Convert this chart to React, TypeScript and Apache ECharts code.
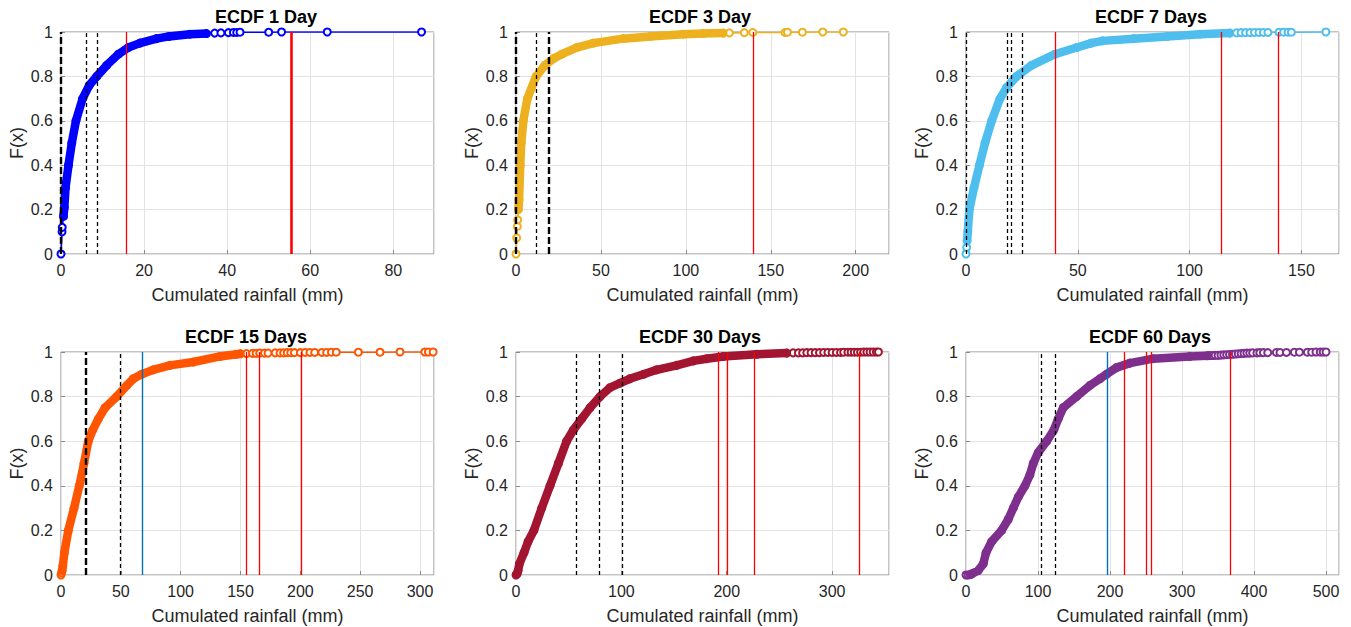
import React, { useEffect, useRef } from "react";
import * as echarts from "echarts";

// ---------------- DATA ----------------
const titles = ["ECDF 1 Day", "ECDF 3 Day", "ECDF 7 Days", "ECDF 15 Days", "ECDF 30 Days", "ECDF 60 Days"];
const xMaxes = [89.8, 219.6, 166.8, 311.7, 354, 518];
const xSteps = [20, 50, 50, 50, 100, 100];
const seriesColors = ["#0000FF", "#EDB120", "#4DBEEE", "#FF5500", "#A2142F", "#7E2F8E"];
const xAxisLabel = "Cumulated rainfall (mm)";
const yAxisLabel = "F(x)";

// Panel 1 — 1 day
const p1LowX = [0, 0.25, 0.3, 0.6];
const p1LowF = [0, 0.1, 0.12, 0.17];
const p1BandX = [0.8, 1.1, 1.8, 2.6, 3.6, 5.2, 6.8, 8.6, 11, 13.8, 16.2, 19, 23, 26, 31, 35];
const p1BandF = [0.21, 0.3, 0.4, 0.5, 0.6, 0.7, 0.76, 0.8, 0.85, 0.9, 0.93, 0.95, 0.97, 0.98, 0.99, 0.993];
const p1TailX = [37, 38.5, 40.3, 41.5, 42.3, 43.1, 50, 53.1, 64.1, 86.8];
const p1TailF = [0.995, 0.996, 0.997, 0.998, 0.998, 0.999, 0.999, 1, 1, 1];
const p1BlackBold = [0];
const p1Black = [6.0, 8.8];
const p1Red = [15.7];
const p1RedBold = [55.4];
const p1Blue: number[] = [];

// Panel 2 — 3 days
const p2LowX = [0, 0.4, 0.8, 1.0, 1.4];
const p2LowF = [0, 0.072, 0.124, 0.154, 0.2];
const p2BandX = [1.8, 2.5, 3.1, 4.3, 6.7, 11.8, 17, 22, 27, 35.7, 45.5, 63, 79, 98.5, 110, 122];
const p2BandF = [0.244, 0.4, 0.5, 0.6, 0.7, 0.8, 0.85, 0.88, 0.9, 0.93, 0.95, 0.97, 0.98, 0.99, 0.993, 0.995];
const p2TailX = [125.6, 134.4, 139.4, 158.4, 159.8, 168.6, 180.6, 192.7];
const p2TailF = [0.996, 0.997, 0.998, 0.998, 0.999, 0.999, 1, 1];
const p2BlackBold = [0, 19.4];
const p2Black = [11.8];
const p2Red = [139.4];
const p2RedBold: number[] = [];
const p2Blue: number[] = [];

// Panel 3 — 7 days
const p3LowX = [0, 0.3, 0.5];
const p3LowF = [0, 0.03, 0.06];
const p3BandX = [0.8, 1.5, 3.6, 6.0, 8.5, 11.5, 15.2, 18.2, 22.6, 29.3, 39.8, 49.5, 56, 61, 75, 90, 104.6, 118];
const p3BandF = [0.1, 0.2, 0.3, 0.4, 0.5, 0.6, 0.7, 0.75, 0.8, 0.85, 0.9, 0.93, 0.95, 0.96, 0.97, 0.98, 0.99, 0.995];
const p3TailX = [121, 123, 125, 127, 129, 131, 133, 135, 140, 142, 144, 145.5, 160.9];
const p3TailF = [0.996, 0.997, 0.997, 0.997, 0.998, 0.998, 0.998, 0.998, 0.999, 0.999, 0.999, 0.999, 1];
const p3BlackBold: number[] = [];
const p3Black = [0.3, 18.6, 20.4, 25.3];
const p3Red = [40.1, 114, 139.6];
const p3RedBold: number[] = [];
const p3Blue: number[] = [];

// Panel 4 — 15 days
const p4LowX = [0, 0.5, 1];
const p4LowF = [0, 0.01, 0.02];
const p4BandX = [1.5, 2.8, 6.1, 10.9, 15.3, 19.2, 22.8, 26.5, 31.2, 36.8, 46.5, 55, 60.4, 67.4, 77, 91, 110.6, 132.9, 146.8, 150];
const p4BandF = [0.04, 0.1, 0.2, 0.3, 0.4, 0.5, 0.6, 0.65, 0.7, 0.75, 0.8, 0.85, 0.88, 0.9, 0.92, 0.94, 0.955, 0.98, 0.99, 0.992];
const p4TailX = [155, 160, 163, 166, 170, 173, 179, 183, 186, 189, 192, 195, 200, 204, 208, 212, 218, 222, 226, 230, 248.5, 266.6, 283.3, 304, 307, 311];
const p4TailF = [0.993, 0.994, 0.994, 0.995, 0.995, 0.995, 0.996, 0.996, 0.996, 0.997, 0.997, 0.997, 0.997, 0.998, 0.998, 0.998, 0.998, 0.998, 0.999, 0.999, 0.999, 0.999, 1, 1, 1, 1];
const p4BlackBold = [20.9];
const p4Black = [49.9];
const p4Red = [154.6, 165.7, 200.6];
const p4RedBold: number[] = [];
const p4Blue = [68];

// Panel 5 — 30 days
const p5LowX = [0, 1];
const p5LowF = [0, 0.005];
const p5BandX = [2, 3.2, 7.6, 11.5, 17, 24.4, 32.3, 40.2, 48, 54.4, 62.3, 70.3, 79.7, 89.2, 98.7, 108, 121, 133.5, 152.5, 168.4, 181, 196.8, 228.5, 257];
const p5BandF = [0.02, 0.05, 0.1, 0.15, 0.2, 0.3, 0.4, 0.5, 0.6, 0.65, 0.7, 0.75, 0.8, 0.84, 0.86, 0.88, 0.9, 0.92, 0.94, 0.96, 0.97, 0.98, 0.99, 0.995];
const p5TailX = [263, 268, 272, 276, 280, 284, 288, 292, 296, 300, 304, 308, 311, 315, 318, 321, 324, 327, 330, 333, 336, 339, 342, 344];
const p5TailF = [0.996, 0.996, 0.996, 0.997, 0.997, 0.997, 0.997, 0.998, 0.998, 0.998, 0.998, 0.998, 0.999, 0.999, 0.999, 0.999, 0.999, 0.999, 1, 1, 1, 1, 1, 1];
const p5BlackBold: number[] = [];
const p5Black = [57, 78.8, 100.6];
const p5Red = [191.8, 200.3, 226.3, 325.3];
const p5RedBold: number[] = [];
const p5Blue: number[] = [];

// Panel 6 — 60 days
const p6LowX = [0, 3, 6];
const p6LowF = [0, 0, 0.002];
const p6BandX = [8, 17, 24, 27.8, 35.6, 49.5, 58.7, 65.7, 72.6, 81.9, 88.8, 93.4, 100.4, 112, 122, 128, 135, 153.6, 172, 186, 195, 209, 227.6, 260, 310.8, 335];
const p6BandF = [0.005, 0.02, 0.05, 0.1, 0.15, 0.2, 0.25, 0.3, 0.35, 0.4, 0.45, 0.5, 0.55, 0.6, 0.65, 0.7, 0.75, 0.8, 0.85, 0.88, 0.9, 0.93, 0.95, 0.97, 0.98, 0.983];
const p6TailX = [338, 342, 346, 350, 354, 358, 362, 366, 370, 374, 378, 382, 386, 390, 394, 398, 404, 408, 413, 419, 431, 436, 445, 456, 463, 474, 480, 486, 492, 496, 500];
const p6TailF = [0.984, 0.984, 0.985, 0.985, 0.986, 0.987, 0.988, 0.989, 0.99, 0.991, 0.992, 0.993, 0.994, 0.995, 0.995, 0.996, 0.996, 0.997, 0.997, 0.997, 0.998, 0.998, 0.998, 0.999, 0.999, 0.999, 0.999, 1, 1, 1, 1];
const p6BlackBold: number[] = [];
const p6Black = [105, 123.5];
const p6Red = [219.2, 249.8, 257.6, 366.8];
const p6RedBold: number[] = [];
const p6Blue = [195.7];

const panels = [
  { lowX: p1LowX, lowF: p1LowF, bandX: p1BandX, bandF: p1BandF, tailX: p1TailX, tailF: p1TailF, blackBold: p1BlackBold, black: p1Black, red: p1Red, redBold: p1RedBold, blue: p1Blue },
  { lowX: p2LowX, lowF: p2LowF, bandX: p2BandX, bandF: p2BandF, tailX: p2TailX, tailF: p2TailF, blackBold: p2BlackBold, black: p2Black, red: p2Red, redBold: p2RedBold, blue: p2Blue },
  { lowX: p3LowX, lowF: p3LowF, bandX: p3BandX, bandF: p3BandF, tailX: p3TailX, tailF: p3TailF, blackBold: p3BlackBold, black: p3Black, red: p3Red, redBold: p3RedBold, blue: p3Blue },
  { lowX: p4LowX, lowF: p4LowF, bandX: p4BandX, bandF: p4BandF, tailX: p4TailX, tailF: p4TailF, blackBold: p4BlackBold, black: p4Black, red: p4Red, redBold: p4RedBold, blue: p4Blue },
  { lowX: p5LowX, lowF: p5LowF, bandX: p5BandX, bandF: p5BandF, tailX: p5TailX, tailF: p5TailF, blackBold: p5BlackBold, black: p5Black, red: p5Red, redBold: p5RedBold, blue: p5Blue },
  { lowX: p6LowX, lowF: p6LowF, bandX: p6BandX, bandF: p6BandF, tailX: p6TailX, tailF: p6TailF, blackBold: p6BlackBold, black: p6Black, red: p6Red, redBold: p6RedBold, blue: p6Blue },
];

// ---------------- LAYOUT ----------------
const colLefts = [61, 516, 966];
const rowTops = [32, 352];
const plotW = 373;
const plotHs = [222, 223];
const titleCenters = [266, 700, 1151, 246, 700, 1150];
const FONT = "'Liberation Sans', Arial, Helvetica, sans-serif";
const TEXT = "#262626";

const zip = (xs: number[], ys: number[]) => xs.map((x, i) => [x, ys[i]]);

function buildOption() {
  const grid: any[] = [];
  const xAxis: any[] = [];
  const yAxis: any[] = [];
  const series: any[] = [];
  const graphic: any[] = [];

  panels.forEach((p, i) => {
    const col = i % 3;
    const row = Math.floor(i / 3);
    const left = colLefts[col];
    const top = rowTops[row];
    const h = plotHs[row];
    const color = seriesColors[i];

    grid.push({ left, top, width: plotW, height: h, show: true, borderColor: "#8a8a8a", borderWidth: 1, backgroundColor: "transparent", containLabel: false });

    xAxis.push({
      gridIndex: i, type: "value", min: 0, max: xMaxes[i], interval: xSteps[i],
      axisLine: { show: false },
      axisTick: { show: true, inside: true, length: 4, lineStyle: { color: "#8a8a8a" } },
      axisLabel: { fontSize: 16, color: TEXT, fontFamily: FONT, margin: 8, showMaxLabel: false },
      splitLine: { show: true, lineStyle: { color: "#e3e3e3", width: 1 } },
    });
    yAxis.push({
      gridIndex: i, type: "value", min: 0, max: 1, interval: 0.2,
      axisLine: { show: false },
      axisTick: { show: true, inside: true, length: 4, lineStyle: { color: "#8a8a8a" } },
      axisLabel: { fontSize: 16, color: TEXT, fontFamily: FONT, margin: 8 },
      splitLine: { show: true, lineStyle: { color: "#e3e3e3", width: 1 } },
    });

    const all = [...zip(p.lowX, p.lowF), ...zip(p.bandX, p.bandF), ...zip(p.tailX, p.tailF)];
    series.push({
      type: "line", xAxisIndex: i, yAxisIndex: i, data: all, z: 2,
      symbol: "emptyCircle", symbolSize: 7, showSymbol: true, showAllSymbol: true,
      lineStyle: { color, width: 1.6 },
      itemStyle: { color, borderColor: color, borderWidth: 2 },
      silent: true,
    });
    const bandData = [zip(p.lowX, p.lowF)[p.lowX.length - 1], ...zip(p.bandX, p.bandF)];
    series.push({
      type: "line", xAxisIndex: i, yAxisIndex: i, data: bandData, z: 3,
      symbol: "none",
      lineStyle: { color, width: 8.5, cap: "round", join: "round" },
      silent: true,
    });

    const mlData: any[] = [];
    p.blackBold.forEach((v) => mlData.push({ xAxis: v, lineStyle: { color: "#000", width: 2.4, type: [7, 3] } }));
    p.black.forEach((v) => mlData.push({ xAxis: v, lineStyle: { color: "#000", width: 1.3, type: [4, 3] } }));
    p.red.forEach((v) => mlData.push({ xAxis: v, lineStyle: { color: "#FF0000", width: 1.3, type: "solid" } }));
    p.redBold.forEach((v) => mlData.push({ xAxis: v, lineStyle: { color: "#FF0000", width: 2.6, type: "solid" } }));
    p.blue.forEach((v) => mlData.push({ xAxis: v, lineStyle: { color: "#0072BD", width: 1.4, type: "solid" } }));
    series.push({
      type: "line", xAxisIndex: i, yAxisIndex: i, data: [[p.bandX[0], p.bandF[0]]], z: 5,
      symbol: "none", lineStyle: { opacity: 0 }, silent: true,
      markLine: { silent: true, symbol: ["none", "none"], label: { show: false }, animation: false, data: mlData },
    });

    graphic.push({
      type: "text", x: titleCenters[i], y: top - 15,
      style: { text: titles[i], fill: "#000", font: `bold 18px ${FONT}`, align: "center", verticalAlign: "middle" },
    });
    graphic.push({
      type: "text", x: left + plotW / 2, y: top + h + 41,
      style: { text: xAxisLabel, fill: TEXT, font: `18px ${FONT}`, align: "center", verticalAlign: "middle" },
    });
    graphic.push({
      type: "text", x: left - 44, y: top + h / 2, rotation: Math.PI / 2,
      style: { text: yAxisLabel, fill: TEXT, font: `18px ${FONT}`, align: "center", verticalAlign: "middle" },
    });
  });

  return { animation: false, backgroundColor: "#ffffff", grid, xAxis, yAxis, series, graphic };
}

export default function App() {
  const ref = useRef<HTMLDivElement>(null);
  useEffect(() => {
    if (!ref.current) return;
    const chart = echarts.init(ref.current, undefined, { renderer: "svg" });
    chart.setOption(buildOption());
    return () => chart.dispose();
  }, []);
  return <div ref={ref} style={{ position: "fixed", left: 0, top: 0, width: 1351, height: 627, background: "#fff" }} />;
}
